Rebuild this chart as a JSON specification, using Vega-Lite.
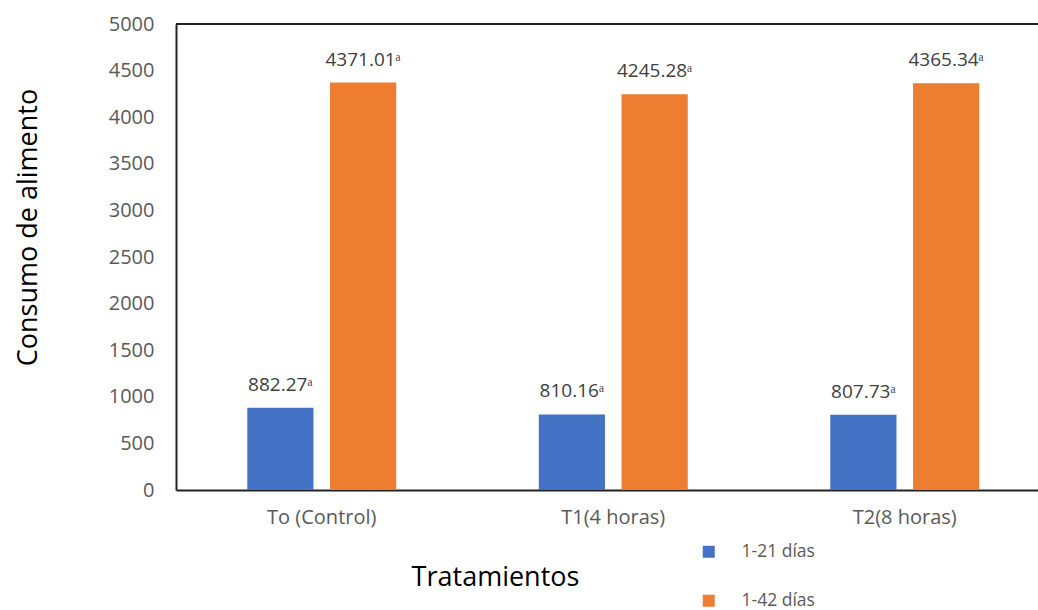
{
  "$schema": "https://vega.github.io/schema/vega-lite/v6.json",
  "width": 862,
  "height": 466,
  "autosize": {"type": "none"},
  "padding": {"left": 176, "top": 24, "right": 0, "bottom": 120},
  "background": "white",
  "config": {"font": "Open Sans", "view": {"stroke": null}},
  "data": {
    "values": [
      {"tratamiento": "To (Control)", "periodo": "1-21 días", "consumo": 882.27, "etiqueta": "882.27ᵃ"},
      {"tratamiento": "To (Control)", "periodo": "1-42 días", "consumo": 4371.01, "etiqueta": "4371.01ᵃ"},
      {"tratamiento": "T1(4 horas)", "periodo": "1-21 días", "consumo": 810.16, "etiqueta": "810.16ᵃ"},
      {"tratamiento": "T1(4 horas)", "periodo": "1-42 días", "consumo": 4245.28, "etiqueta": "4245.28ᵃ"},
      {"tratamiento": "T2(8 horas)", "periodo": "1-21 días", "consumo": 807.73, "etiqueta": "807.73ᵃ"},
      {"tratamiento": "T2(8 horas)", "periodo": "1-42 días", "consumo": 4365.34, "etiqueta": "4365.34ᵃ"}
    ]
  },
  "encoding": {
    "y": {
      "field": "consumo",
      "type": "quantitative",
      "scale": {"domain": [0, 5000], "nice": false},
      "axis": {
        "title": "Consumo de alimento",
        "values": [0, 500, 1000, 1500, 2000, 2500, 3000, 3500, 4000, 4500, 5000],
        "format": "d",
        "grid": false,
        "ticks": false,
        "tickSize": 0,
        "labelPadding": 22,
        "labelFontSize": 20,
        "labelColor": "#595959",
        "domainColor": "#222222",
        "domainWidth": 2,
        "titleFontSize": 27,
        "titleFontWeight": "normal",
        "titleColor": "#000000",
        "titleX": -148,
        "titleY": 203,
        "titleBaseline": "middle",
        "titleAlign": "center",
        "titleAngle": 270
      }
    }
  },
  "layer": [
    {
      "mark": {"type": "bar"},
      "encoding": {
        "x": {
          "field": "tratamiento",
          "type": "nominal",
          "sort": ["To (Control)", "T1(4 horas)", "T2(8 horas)"],
          "scale": {"range": [0, 874.5], "paddingInner": 0.489, "paddingOuter": 0.2445},
          "axis": {
            "title": "Tratamientos",
            "labelAngle": 0,
            "labelFontSize": 20,
            "labelColor": "#595959",
            "labelPadding": 17,
            "ticks": false,
            "tickSize": 0,
            "domainColor": "#222222",
            "domainWidth": 2,
            "titleFontSize": 27,
            "titleFontWeight": "normal",
            "titleColor": "#000000",
            "titleX": 319,
            "titleY": 87,
            "titleBaseline": "middle",
            "titleAlign": "center"
          }
        },
        "xOffset": {
          "field": "periodo",
          "type": "nominal",
          "sort": ["1-21 días", "1-42 días"],
          "scale": {"paddingInner": 0.2, "paddingOuter": 0}
        },
        "color": {
          "field": "periodo",
          "type": "nominal",
          "scale": {"domain": ["1-21 días", "1-42 días"], "range": ["#4472C4", "#ED7D31"]},
          "legend": {
            "title": null,
            "orient": "none",
            "legendX": 524,
            "legendY": 519,
            "direction": "vertical",
            "symbolType": "square",
            "symbolSize": 144,
            "symbolStrokeWidth": 0,
            "labelFontSize": 17.5,
            "labelColor": "#595959",
            "labelOffset": 24,
            "rowPadding": 30
          }
        }
      }
    },
    {
      "mark": {"type": "text", "baseline": "alphabetic", "dy": -17, "fontSize": 19, "color": "#404040"},
      "encoding": {
        "x": {
          "field": "tratamiento",
          "type": "nominal",
          "sort": ["To (Control)", "T1(4 horas)", "T2(8 horas)"]
        },
        "xOffset": {
          "field": "periodo",
          "type": "nominal",
          "sort": ["1-21 días", "1-42 días"]
        },
        "text": {"field": "etiqueta"}
      }
    },
    {
      "data": {"values": [{"tope": 5000}]},
      "mark": {"type": "rule", "color": "#222222", "strokeWidth": 2},
      "encoding": {"y": {"field": "tope", "type": "quantitative"}}
    }
  ]
}
